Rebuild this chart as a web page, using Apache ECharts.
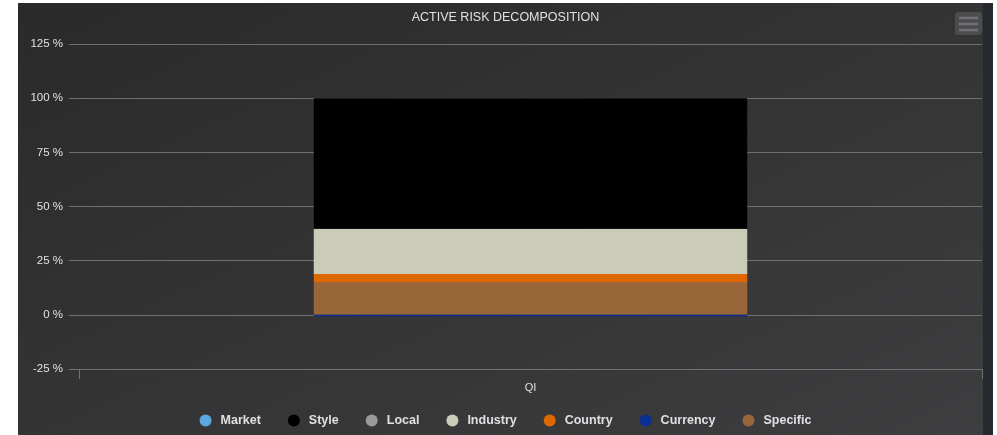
<!DOCTYPE html>
<html>
<head>
<meta charset="utf-8">
<script src="https://cdn.jsdelivr.net/npm/echarts@6/dist/echarts.min.js"></script>
<style>
  html, body { margin: 0; padding: 0; background: #ffffff; width: 997px; height: 435px; overflow: hidden; }
  #panel { position: absolute; left: 18px; top: 3px; width: 965px; height: 440px;
           background: linear-gradient(to bottom right, #2a2a2b, #3e3e40); }
  #edge { position: absolute; left: 983px; top: 3px; width: 10px; height: 440px; background: #262a2f; }
  #chart { position: absolute; left: 18px; top: 3px; width: 975px; height: 432px; }
</style>
</head>
<body>
<div id="panel"></div>
<div id="edge"></div>
<div id="chart"></div>
<script>
// Portfolio active risk split by source, in percent of total
const categories = ['QI'];
const legendOrder = ['Market', 'Style', 'Local', 'Industry', 'Country', 'Currency', 'Specific'];
const market   = [0];
const style    = [60.3];
const local    = [0];
const industry = [20.8];
const country  = [3.7];
const currency = [-0.6];
const specific = [15.2];
const yTicks = { min: -25, max: 125, step: 25 };

const colors = {
  Market: '#5ca7e0',
  Style: '#000000',
  Local: '#9a9a9a',
  Industry: '#cbccb8',
  Country: '#df6900',
  Currency: '#0b2e94',
  Specific: '#99663a'
};

// bottom-to-top stacking order
const stackSeries = [
  ['Specific', specific],
  ['Currency', currency],
  ['Country', country],
  ['Industry', industry],
  ['Local', local],
  ['Style', style],
  ['Market', market]
];

const font = 'Liberation Sans, Arial, Helvetica, sans-serif';
const textColor = '#E0E0E3';
const gridColor = '#707073';

const chart = echarts.init(document.getElementById('chart'), null, { renderer: 'canvas' });

chart.setOption({
  backgroundColor: 'transparent',
  animation: false,
  title: {
    text: 'ACTIVE RISK DECOMPOSITION',
    left: 'center',
    top: 3,
    textStyle: { color: textColor, fontFamily: font, fontSize: 12.5, fontWeight: 'normal' }
  },
  legend: {
    data: legendOrder,
    left: 'center',
    top: 406,
    icon: 'circle',
    itemWidth: 12,
    itemHeight: 12,
    itemGap: 27,
    textStyle: { color: textColor, fontFamily: font, fontSize: 12.5, fontWeight: 'bold', padding: [0, 0, 0, 4] }
  },
  grid: [
    { left: 61, right: 11, top: 41, bottom: 66 },
    { left: 51, right: 11, top: 41, bottom: 66 }
  ],
  xAxis: [
    {
      type: 'category',
      gridIndex: 0,
      data: categories,
      axisLine: { show: true, onZero: false, lineStyle: { color: gridColor, width: 1 } },
      axisTick: { show: true, length: 10, lineStyle: { color: gridColor } },
      axisLabel: { color: textColor, fontFamily: font, fontSize: 11, margin: 13 }
    },
    { type: 'category', gridIndex: 1, data: categories, show: false }
  ],
  yAxis: [
    {
      type: 'value', gridIndex: 0,
      min: yTicks.min, max: yTicks.max, interval: yTicks.step,
      show: false, splitLine: { show: false }
    },
    {
      type: 'value', gridIndex: 1,
      min: yTicks.min, max: yTicks.max, interval: yTicks.step,
      axisLine: { show: false },
      axisTick: { show: false },
      splitLine: { show: true, lineStyle: { color: gridColor, width: 1 } },
      axisLabel: { color: textColor, fontFamily: font, fontSize: 11.5, margin: 6, formatter: '{value} %' }
    }
  ],
  series: stackSeries.map(([name, values]) => ({
    name: name,
    type: 'bar',
    stack: 'risk',
    xAxisIndex: 0,
    yAxisIndex: 0,
    barWidth: '48%',
    data: values,
    itemStyle: { color: colors[name] }
  })),
  graphic: [
    {
      type: 'group',
      left: 937,
      top: 9,
      children: [
        { type: 'rect', shape: { x: 0, y: 0, width: 27, height: 23, r: 3 }, style: { fill: '#4c4c4f' } },
        { type: 'line', shape: { x1: 4, y1: 6, x2: 23, y2: 6 }, style: { stroke: '#727275', lineWidth: 2.5 } },
        { type: 'line', shape: { x1: 4, y1: 12, x2: 23, y2: 12 }, style: { stroke: '#727275', lineWidth: 2.5 } },
        { type: 'line', shape: { x1: 4, y1: 18, x2: 23, y2: 18 }, style: { stroke: '#727275', lineWidth: 2.5 } }
      ]
    }
  ]
});
</script>
</body>
</html>
